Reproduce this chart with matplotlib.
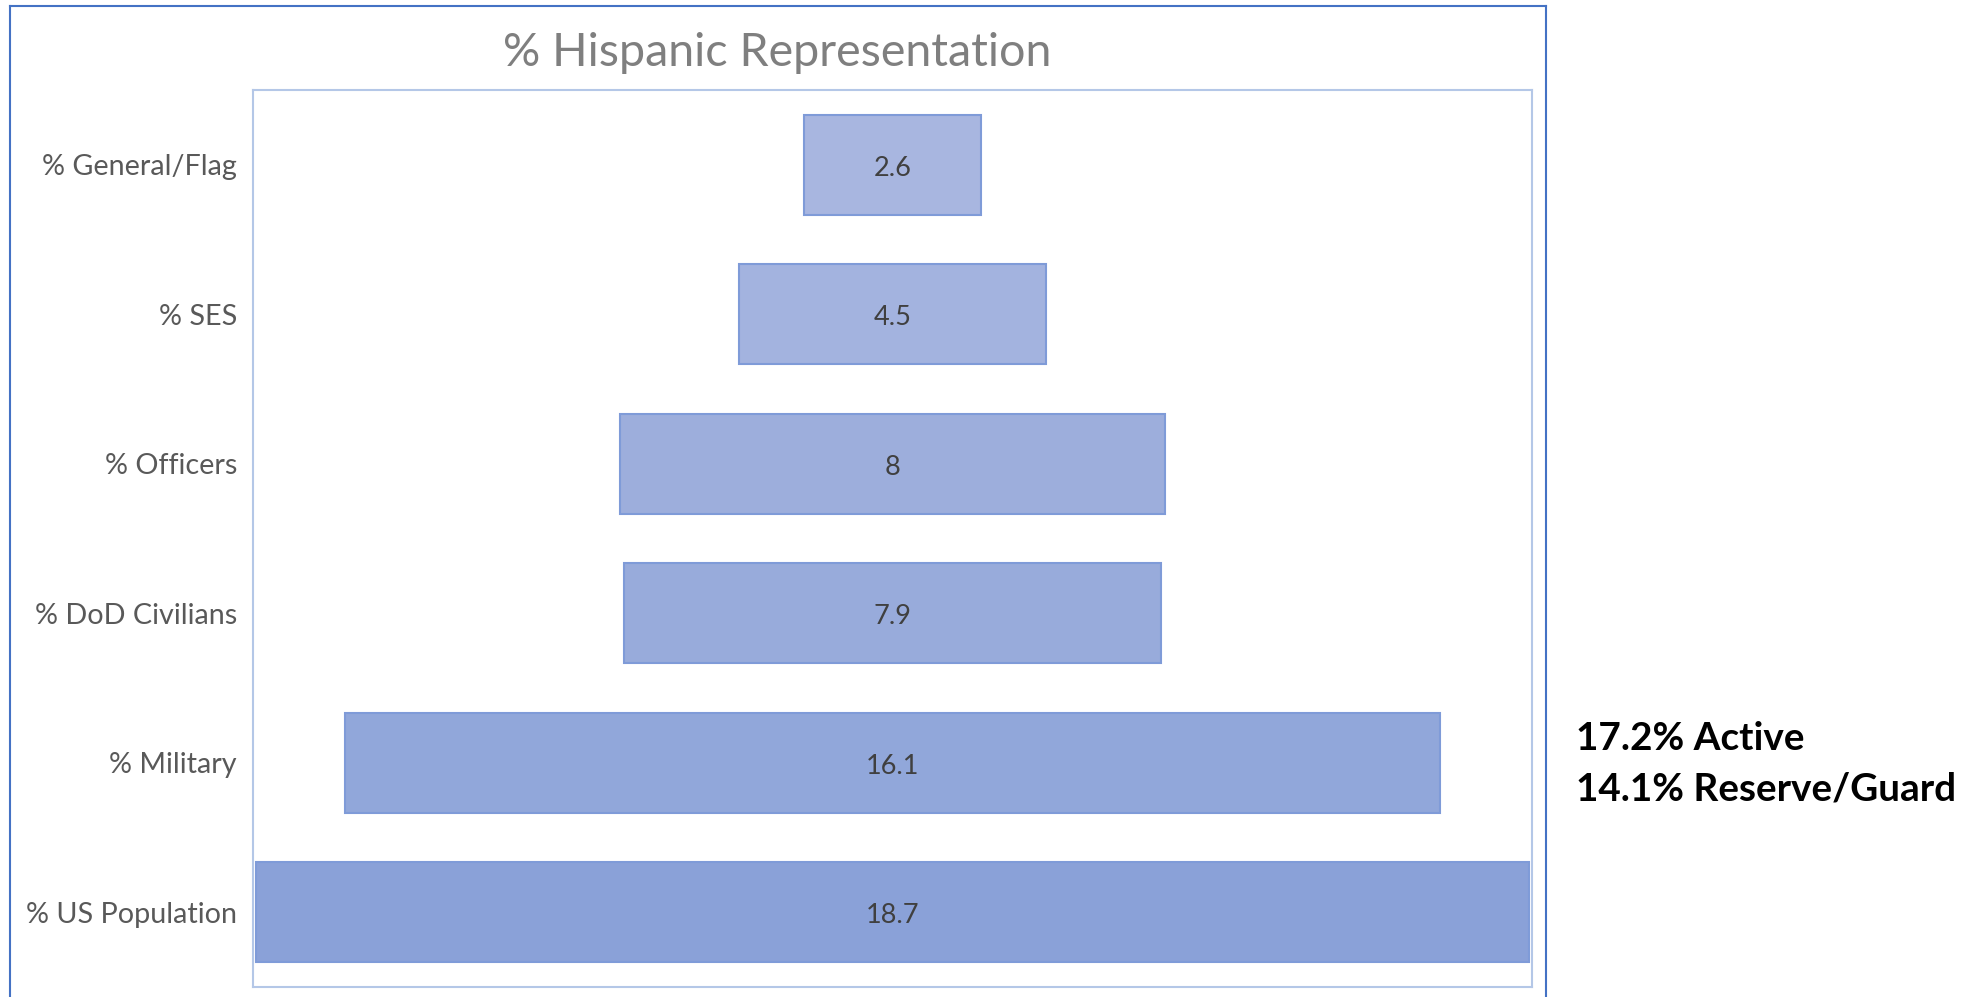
import matplotlib
matplotlib.use("Agg")
import matplotlib.pyplot as plt
from matplotlib.lines import Line2D

categories = ["% US Population", "% Military", "% DoD Civilians", "% Officers", "% SES", "% General/Flag"]
values = [18.7, 16.1, 7.9, 8.0, 4.5, 2.6]
value_labels = ["18.7", "16.1", "7.9", "8", "4.5", "2.6"]
bar_colors = ["#8AA1D8", "#91A7DA", "#98ABDB", "#9DAEDC", "#A3B3DF", "#A8B6E0"]
title = "% Hispanic Representation"
note_lines = ["17.2% Active", "14.1% Reserve/Guard"]

plt.rcParams['font.family'] = ['Lato', 'DejaVu Sans']

W, H = 1985, 997
fig = plt.figure(figsize=(W / 100, H / 100), dpi=100)
fig.patch.set_facecolor("white")

ax = fig.add_axes([253 / W, 1 - 987 / H, (1532 - 253) / W, (987 - 90) / H])

y = list(range(len(categories)))
lefts = [-v / 2 for v in values]
ax.barh(y, values, left=lefts, height=0.67, color=bar_colors,
        edgecolor="#7F9BD8", linewidth=1.5)
for yi, v, lab in zip(y, values, value_labels):
    ax.text(0, yi - 0.025, lab, ha="center", va="center", fontsize=19.5, color="#404040")

ax.set_xlim(-9.40, 9.40)
ax.set_ylim(-0.5, 5.5)
ax.set_yticks(y)
ax.set_yticklabels(categories, fontsize=20.7, color="#595959")
for t in ax.get_yticklabels():
    t.set_y(t.get_position()[1])
ax.tick_params(axis="y", length=0, pad=11.5)
ax.set_xticks([])
for s in ax.spines.values():
    s.set_color("#B4C7E7")
    s.set_linewidth(1.5)

fig.text(777 / W, 1 - 53 / H, title, ha="center", va="center", fontsize=33.6, color="#7F7F7F")

fig.text(1576 / W, 1 - 738 / H, note_lines[0], ha="left", va="center", fontsize=27.9,
         fontweight="bold", color="black")
fig.text(1576 / W, 1 - 789 / H, note_lines[1], ha="left", va="center", fontsize=27.9,
         fontweight="bold", color="black")

# outer chart frame
fc = "#4472C4"
xl, xr, yt = 10 / W, 1546 / W, 1 - 6 / H
fig.add_artist(Line2D([xl, xl], [0, yt], color=fc, lw=1.5, transform=fig.transFigure))
fig.add_artist(Line2D([xr, xr], [0, yt], color=fc, lw=1.5, transform=fig.transFigure))
fig.add_artist(Line2D([xl, xr], [yt, yt], color=fc, lw=1.5, transform=fig.transFigure))

fig.savefig("out.png", dpi=100)
